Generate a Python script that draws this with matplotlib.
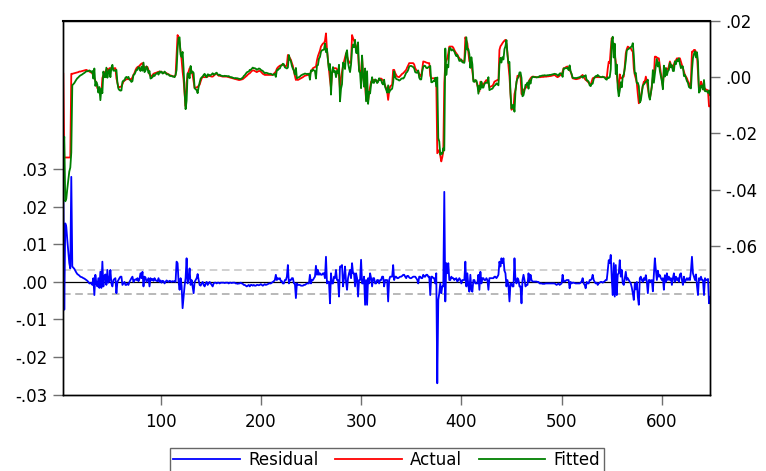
import numpy as np
import matplotlib.pyplot as plt
from matplotlib.ticker import FuncFormatter

plt.rcParams['font.family'] = ['DejaVu Sans']

actual_e4 = [
    12, -286, -286, -286, -286, -286, -286, -286, 12, 12,
    13, 14, 15, 16, 17, 18, 20, 20, 21, 22,
    23, 24, 25, 26, 24, 22, 20, 18, 16, 14,
    5, -4, -12, -21, -39, -45, -51, -55, -57, -3,
    8, 15, 20, 26, 30, 16, 32, 32, 30, 32,
    28, 32, 32, -4, -20, -36, -36, -34, -33, -25,
    -16, -12, -10, -7, -7, -7, -8, -7, -7, 0,
    8, 15, 25, 32, 36, 38, 40, 45, 48, 50,
    40, 32, 35, 38, 36, 25, 10, 5, 2, 8,
    12, 14, 15, 16, 18, 19, 20, 20, 18, 16,
    16, 16, 16, 14, 12, 10, 8, 6, 5, 4,
    3, 2, 8, 80, 150, 140, 121, 90, 62, 20,
    -10, -60, -104, -21, 10, 20, 32, 32, 20, 8,
    -15, -39, -38, -36, -36, -30, -27, -15, -5, 2,
    0, 0, 0, 0, 2, 5, 5, 3, 2, 2,
    5, 8, 12, 12, 8, 5, 5, 4, 3, 2,
    2, 2, 2, 2, 1, 0, -1, -2, -3, -4,
    -5, -6, -7, -8, -9, -10, -10, -9, -8, -7,
    -4, -1, 2, 5, 9, 12, 14, 18, 22, 24,
    24, 22, 20, 18, 20, 22, 22, 20, 16, 12,
    10, 8, 8, 8, 8, 8, 8, 8, 8, 8,
    12, 16, 20, 30, 35, 38, 41, 42, 44, 44,
    42, 40, 38, 45, 79, 75, 68, 62, 50, 40,
    20, 5, -10, -8, -10, -8, -6, -4, -2, 0,
    3, 5, 6, 7, 8, 8, 10, 20, 26, 32,
    34, 36, 38, 60, 75, 85, 95, 109, 115, 120,
    121, 130, 156, 97, 60, 26, -10, -39, 10, 32,
    32, 32, 32, 28, 20, 5, -45, 0, 20, 40,
    56, 70, 85, 75, 62, 55, 50, 55, 150, 139,
    130, 121, 110, 95, 85, 26, 20, 20, 73, 2,
    -20, -30, -81, -40, -85, -57, -35, -16, -12, -10,
    -10, -12, -14, -16, -12, -8, -5, -5, -8, -12,
    -21, -30, -39, -50, -81, -50, -33, -30, -27, 26,
    26, 15, 8, 2, 1, 0, 4, 8, 12, 14,
    18, 22, 26, 35, 42, 50, 50, 50, 50, 50,
    45, 32, 26, 22, 20, 12, 6, 2, 30, 56,
    55, 54, 52, 51, 50, 50, 5, -4, -4, -4,
    -4, -6, -10, -271, -265, -259, -280, -300, -285, -265,
    -21, 50, 58, 67, 85, 109, 109, 109, 109, 105,
    97, 90, 85, 80, 73, 68, 63, 59, 58, 57,
    56, 142, 130, 121, 90, 56, 52, 50, 20, -10,
    -12, -14, -16, -30, -40, -51, -16, -20, -27, -27,
    -20, -15, -10, -15, -21, -36, -34, -32, -31, -25,
    -16, -14, -12, -10, -10, 97, 110, 115, 121, 126,
    130, 133, 120, 85, 40, 2, -60, -116, -113, -110,
    -60, -45, -20, 5, 5, 5, 5, -60, -63, -45,
    -42, -39, -35, -27, -18, -10, -4, 0, 2, 2,
    1, 1, 0, 0, 0, 0, 0, 1, 1, 1,
    2, 2, 2, 3, 3, 4, 4, 5, 6, 7,
    8, 5, 2, 0, 2, 5, 8, 8, 20, 32,
    32, 35, 37, 38, 30, 25, 20, 8, -4, -5,
    -6, -7, -7, -6, -5, -4, 0, 5, 8, 0,
    -5, -10, -12, -16, -20, -24, -27, -15, -4, -2,
    -1, 0, 0, 0, 0, 0, 0, 0, 0, 0,
    0, -2, -4, 30, 55, 50, 100, 139, 109, 120,
    80, 56, 10, -20, -45, 10, -4, -4, 0, 2,
    40, 85, 100, 109, 106, 104, 103, 95, 91, 30,
    8, -5, -21, -60, -93, -80, -69, -50, -30, -16,
    -16, 2, -15, -39, -60, -75, -57, -30, 0, 0,
    73, 73, 70, 68, 67, 40, 14, -10, -33, 20,
    20, 32, 30, 26, 40, 56, 45, 35, 32, 45,
    56, 60, 67, 67, 67, 67, 55, 44, 30, 18,
    8, 2, -4, -15, -25, -33, -10, 91, 91, 97,
    97, 90, 79, 20, -45, -45, -16, -25, -39, -45,
    -40, -45, -45, -48, -104, -104,
]

residual_e4 = [
    270, -74, 156, 147, 112, 81, 50, 36, 280, 41,
    38, 35, 30, 25, 21, 19, 17, 14, 13, 12,
    10, 9, 7, 5, 3, 0, -4, -4, -2, -8,
    10, -35, 19, -4, -12, 10, -16, 27, -16, 54,
    -12, 15, 20, -8, 32, -2, 5, 32, -4, -12,
    5, 8, 10, -30, 0, 5, 10, 14, 14, -8,
    -4, 0, -8, -8, -4, -8, 0, 5, 10, 14,
    0, 5, 7, 5, 10, 2, 8, 23, 10, 27,
    -12, 14, 12, 0, 5, 10, -12, 10, 5, 8,
    3, 10, 5, 3, 2, 10, 0, 4, -2, 3,
    2, -4, 0, 4, 2, 0, 3, 2, 0, 2,
    1, 2, 0, 54, 50, 0, -21, 10, -10, -70,
    -40, -10, 10, 63, -4, 10, 36, -8, 5, -12,
    -30, 0, 5, 10, 21, 5, -8, -10, -4, 0,
    -8, -12, -4, 0, -8, -4, 0, -4, -8, -12,
    -4, -2, -2, -4, -2, -2, -4, -2, -2, -2,
    -2, -3, -2, -2, -2, -4, -2, -2, -3, -2,
    -2, -2, -4, -4, -5, -4, -4, -2, -4, -5,
    -8, -8, -10, -12, -10, -8, -12, -8, -8, -10,
    -8, -10, -10, -8, -8, -9, -8, -6, -8, -10,
    -8, -6, -8, -7, -6, -4, -4, -4, -2, 0,
    2, 5, 19, 5, 10, 8, 10, 2, 2, -4,
    -4, 5, 5, 14, 45, -4, 5, 5, 10, 10,
    -4, -4, -43, -4, -8, -8, -8, -10, -10, -10,
    -8, -8, -6, -4, -4, -4, 19, -4, 5, 5,
    10, 14, 43, 19, 32, 19, 23, 19, 19, 23,
    23, 10, 67, -4, 1, 0, -57, 23, -4, -4,
    14, 10, 32, 5, 5, -39, 41, 41, 45, -12,
    10, 41, 1, -21, 10, 23, 32, 10, 50, 23,
    23, -12, 23, 10, -39, 5, 5, 59, -4, -4,
    14, -61, 5, -61, 10, -4, 23, 10, -12, 10,
    10, -4, -4, 5, 5, -4, 5, 5, 14, 14,
    -12, 5, 5, 5, -52, 5, 14, 14, 14, 45,
    5, 14, 14, 10, 10, 12, 14, 14, 16, 19,
    19, 14, 10, 16, 16, 12, 10, 10, 12, 14,
    14, 14, 10, 6, -4, 14, 14, 10, 10, 19,
    14, 14, 19, 19, 14, 14, -35, 14, 14, 10,
    10, -4, 23, -270, -48, -30, -4, -30, -12, -12,
    240, -52, 50, 23, 50, 5, 5, 14, 10, 10,
    5, 8, 10, 1, 5, 10, 5, -4, 5, 5,
    5, 54, -12, 23, -10, -26, 19, -21, -26, 5,
    5, -4, -4, -4, 19, -21, 27, -4, 10, 10,
    5, 5, 10, 5, -21, 10, 10, 10, 10, 10,
    14, 14, 10, 14, 19, 54, 41, 63, 50, 63,
    30, 23, -12, 5, -10, -52, -4, -4, -12, -12,
    63, 5, -4, 10, 5, -12, -12, -57, 5, 19,
    5, -12, -8, -8, 23, 1, 19, 5, 1, 1,
    1, 1, 1, 0, 0, -4, -4, -4, -5, -5,
    -5, -4, -4, -4, -4, -4, -4, -4, -4, -4,
    -4, -6, -8, -6, -4, -8, -6, -4, 19, 1,
    1, 3, 5, 5, 5, -17, 0, -4, -2, -2,
    -3, -4, -4, -4, -4, -4, -2, 2, 10, -4,
    -8, -17, 0, -4, -4, 5, 5, 8, 19, 5,
    0, -4, -2, -8, -4, -2, 0, 0, -2, 0,
    2, 5, 5, 30, 58, 50, 72, 10, -35, 50,
    -39, 45, -35, 20, 23, 58, 14, 32, -4, -8,
    10, 27, 5, 10, 5, 0, -4, -15, -30, -48,
    -4, -20, 0, -40, -61, 10, 14, 5, 0, 10,
    5, 18, 0, -30, 5, 5, 0, 5, -25, 20,
    63, 32, 5, 30, 14, 18, 10, 5, 10, -21,
    18, 0, 23, 5, 14, 5, 10, -8, 10, 23,
    0, 14, 5, 10, 0, 20, 23, 5, -8, 14,
    0, 5, 10, 5, 10, 5, 30, 67, 23, 14,
    5, 20, -10, -35, 10, 5, 14, 5, 5, -35,
    10, 5, 5, 8, -57, -40,
]

se_band = 0.0031  # dashed +/- band around zero
left_ticks = [-0.03, -0.02, -0.01, 0.0, 0.01, 0.02, 0.03]
right_ticks = [-0.06, -0.04, -0.02, 0.0, 0.02]
x_ticks = [100, 200, 300, 400, 500, 600]

obs = np.arange(3, 3 + len(actual_e4))
actual = np.array(actual_e4) * 1e-4
residual = np.array(residual_e4) * 1e-4
fitted = actual - residual


def dot_fmt(v, pos):
    s = f"{v:.2f}"
    if s in ("-0.00", "0.00"):
        return ".00"
    return s.replace("0.", ".")


fig = plt.figure(figsize=(7.66, 4.71), dpi=100)
ax = fig.add_axes([0.0826, 0.1624, 0.8443, 0.7936])

ax.axhline(0, color="black", lw=0.9, zorder=1)
ax.axhline(se_band, color="#c4c4c4", lw=1.1, ls=(0, (5, 3)), zorder=1)
ax.axhline(-se_band, color="#a6a6a6", lw=1.1, ls=(0, (5, 3)), zorder=1)
l_res, = ax.plot(obs, residual, color="#0000ff", lw=1.3, zorder=2)

ax.set_xlim(3, 648)
ax.set_ylim(-0.03, 0.0696)
ax.set_yticks(left_ticks)
ax.set_xticks(x_ticks)
ax.yaxis.set_major_formatter(FuncFormatter(dot_fmt))

ax2 = ax.twinx()
l_act, = ax2.plot(obs, actual, color="#ff0000", lw=1.3)
l_fit, = ax2.plot(obs, fitted, color="#008000", lw=1.3)
ax2.set_ylim(-0.113, 0.0201)
ax2.set_yticks(right_ticks)
ax2.yaxis.set_major_formatter(FuncFormatter(dot_fmt))

for a in (ax, ax2):
    for sp in a.spines.values():
        sp.set_color("black")
        sp.set_linewidth(1.0)
    a.tick_params(direction="out", length=7, width=1, color="#707070",
                  labelsize=12, pad=4)
ax.tick_params(axis="x", pad=6)
ax.spines["top"].set_linewidth(1.5)

fig.legend([l_res, l_act, l_fit], ["Residual", "Actual", "Fitted"],
           loc="upper center", bbox_to_anchor=(0.505, 0.049), ncol=3,
           frameon=True, fancybox=False, edgecolor="#404040",
           fontsize=12, handlelength=4.0, columnspacing=1.0,
           handletextpad=0.5, borderpad=0.2, borderaxespad=0)

fig.savefig("out.png", dpi=100)
